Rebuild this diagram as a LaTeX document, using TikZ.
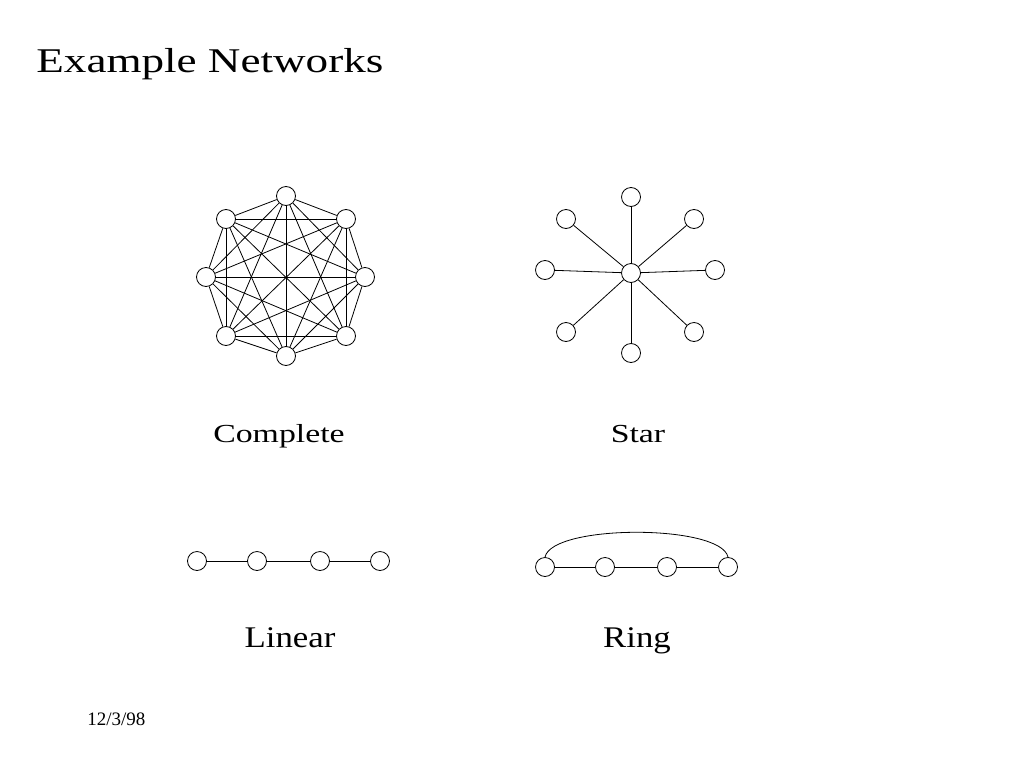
\documentclass[tikz,border=0pt]{standalone}
\usepackage{fontspec}
\usepackage{tikz}
\setmainfont{Liberation Serif}
\newfontfamily\titlefont[FakeStretch=1.3]{Liberation Serif}
\newfontfamily\namefont[FakeStretch=1.3]{Liberation Serif}
\newfontfamily\lowfont[FakeStretch=1.16]{Liberation Serif}

\begin{document}
\begin{tikzpicture}[x=1pt, y=-1pt, inner sep=0pt, minimum size=19pt, line width=0.8pt, main/.style = {draw, circle, fill=white}]
	\useasboundingbox[fill=white] (0,0) rectangle (1024,768);
	% title and labels
	\node[anchor=base west] (title) at (36,72) {\titlefont\fontsize{34.7}{40}\selectfont Example Networks};
	\node[anchor=base] (lcomplete) at (279,442) {\namefont\fontsize{26}{30}\selectfont Complete};
	\node[anchor=base] (lstar) at (638,442) {\namefont\fontsize{26}{30}\selectfont Star};
	\node[anchor=base] (llinear) at (290,647) {\lowfont\fontsize{30}{34}\selectfont Linear};
	\node[anchor=base] (lring) at (637,647) {\lowfont\fontsize{30}{34}\selectfont Ring};
	\node[anchor=base west] (date) at (87,725) {\fontsize{19}{22}\selectfont 12/3/98};
	% complete
	\node[main] (c1) at (286,196) {};
	\node[main] (c2) at (346,219) {};
	\node[main] (c3) at (365,277) {};
	\node[main] (c4) at (346,336) {};
	\node[main] (c5) at (286,356) {};
	\node[main] (c6) at (226,336) {};
	\node[main] (c7) at (206,277) {};
	\node[main] (c8) at (226,219) {};
	\foreach \i in {1,...,7} {
		\pgfmathtruncatemacro{\first}{\i+1}
		\foreach \j in {\first,...,8}
			\draw (c\i) -- (c\j);
	}
	% star
	\node[main] (s0) at (631,273) {};
	\node[main] (s1) at (631,197) {};
	\node[main] (s2) at (694,219) {};
	\node[main] (s3) at (715,270) {};
	\node[main] (s4) at (694,332) {};
	\node[main] (s5) at (631,353) {};
	\node[main] (s6) at (566,332) {};
	\node[main] (s7) at (545,270) {};
	\node[main] (s8) at (566,219) {};
	\foreach \i in {1,...,8}
		\draw (s0) -- (s\i);
	% linear
	\node[main] (l1) at (197,561) {};
	\node[main] (l2) at (257,561) {};
	\node[main] (l3) at (320,561) {};
	\node[main] (l4) at (380,561) {};
	\draw (l1) -- (l2);
	\draw (l2) -- (l3);
	\draw (l3) -- (l4);
	% ring
	\node[main] (r1) at (545,567) {};
	\node[main] (r2) at (605,567) {};
	\node[main] (r3) at (667,567) {};
	\node[main] (r4) at (728,567) {};
	\draw (r1) -- (r2);
	\draw (r2) -- (r3);
	\draw (r3) -- (r4);
	\draw (r1.north) .. controls (552,524) and (721,524) .. (r4.north);
\end{tikzpicture}
\end{document}
